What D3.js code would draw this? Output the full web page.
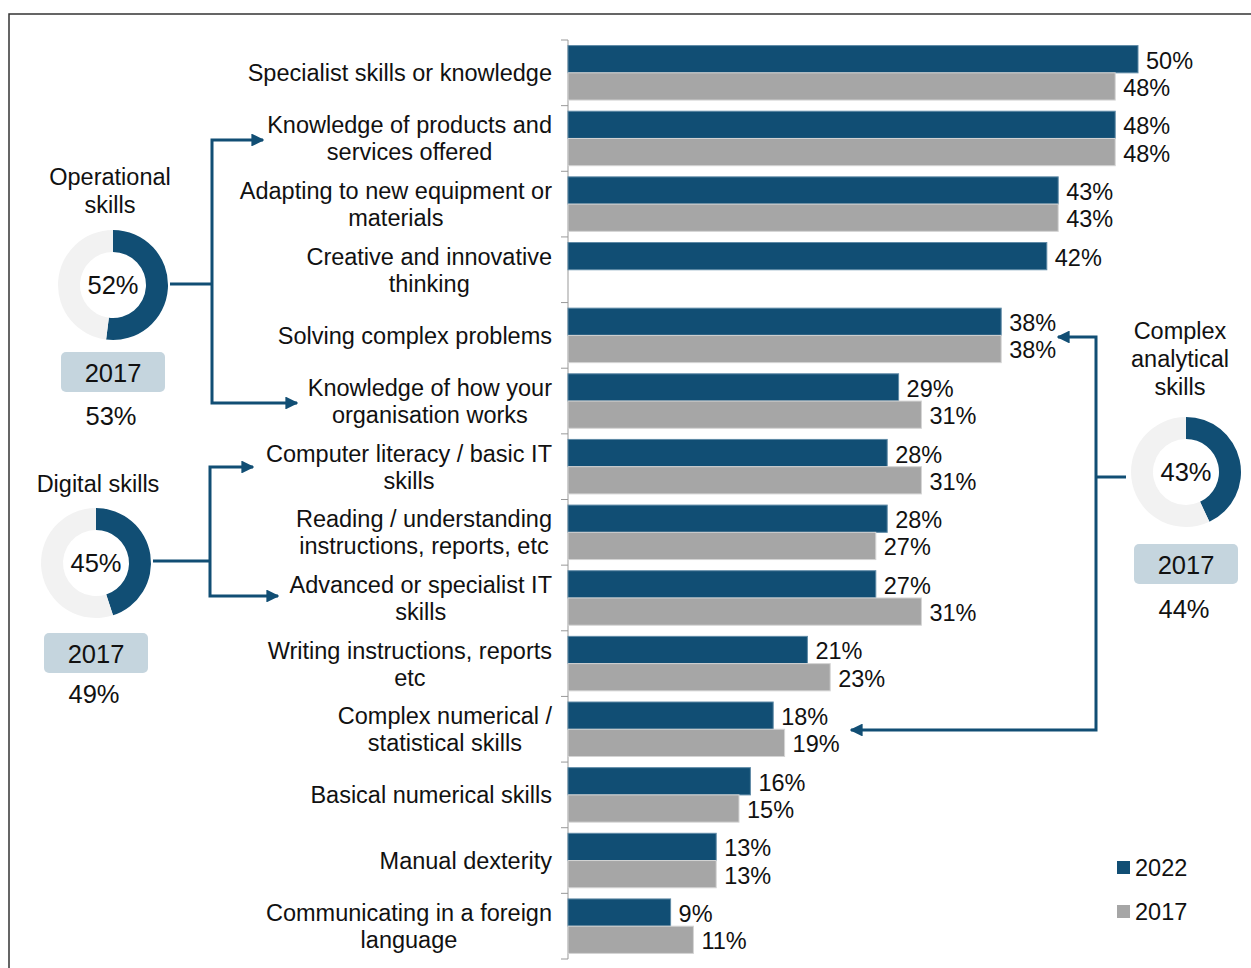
<!DOCTYPE html>
<html lang="en">
<head>
    <meta charset="UTF-8">
    <title>Skills needed</title>
    <script src="https://d3js.org/d3.v7.min.js"></script>
    <style>
        * { margin: 0; padding: 0; }
        body { background: white; font-family: "Liberation Sans", Arial, Helvetica, sans-serif; }
        text { fill: #111; }
    </style>
</head>
<body>
<svg id="chart" width="1251" height="968"></svg>
<script>
// categories (line breaks as in the original labels)
const categories = [
    ["Specialist skills or knowledge"],
    ["Knowledge of products and", "services offered"],
    ["Adapting to new equipment or", "materials"],
    ["Creative and innovative", "thinking"],
    ["Solving complex problems"],
    ["Knowledge of how your", "organisation works"],
    ["Computer literacy / basic IT", "skills"],
    ["Reading / understanding", "instructions, reports, etc"],
    ["Advanced or specialist IT", "skills"],
    ["Writing instructions, reports", "etc"],
    ["Complex numerical /", "statistical skills"],
    ["Basical numerical skills"],
    ["Manual dexterity"],
    ["Communicating in a foreign", "language"]
];
const years = ["2022", "2017"];
const values2022 = [50, 48, 43, 42, 38, 29, 28, 28, 27, 21, 18, 16, 13, 9];
const values2017 = [48, 48, 43, null, 38, 31, 31, 27, 31, 23, 19, 15, 13, 11];

// skill groups shown as donuts
const groupNames = [["Operational", "skills"], ["Digital skills"], ["Complex", "analytical", "skills"]];
const group2022 = [52, 45, 43];
const group2017 = [53, 49, 44];

const colors = { "2022": "#114e74", "2017": "#a6a6a6" };
const strokes = { "2022": "#5f8aa6", "2017": "#d4d4d4" };

const svg = d3.select("#chart");

// frame
svg.append("rect")
    .attr("x", 9).attr("y", 14)
    .attr("width", 1260).attr("height", 980)
    .attr("fill", "none").attr("stroke", "#333").attr("stroke-width", 1.5);

const x = d3.scaleLinear().domain([0, 50]).range([568, 1138]);
const y = d3.scaleBand().domain(d3.range(categories.length)).range([40, 959]).paddingInner(0.17).paddingOuter(0.085).align(0.5);
const ySub = d3.scaleBand().domain(years).range([0, y.bandwidth()]);

const rows = categories.map((c, i) => ({ i, lines: c, v: { "2022": values2022[i], "2017": values2017[i] } }));

// axis line with ticks between categories
svg.append("line")
    .attr("x1", x(0)).attr("x2", x(0))
    .attr("y1", 40).attr("y2", 959)
    .attr("stroke", "#999").attr("stroke-width", 1);
const bounds = d3.range(categories.length + 1).map(i => 40 + i * (919 / categories.length));
svg.selectAll(".tick").data(bounds).join("line")
    .attr("x1", x(0) - 7).attr("x2", x(0))
    .attr("y1", d => d).attr("y2", d => d)
    .attr("stroke", "#999").attr("stroke-width", 1);

// bars
const rowG = svg.selectAll(".row").data(rows).join("g")
    .attr("transform", d => `translate(0,${y(d.i)})`);

years.forEach(yr => {
    const sel = rowG.filter(d => d.v[yr] != null);
    sel.append("rect")
        .attr("x", x(0))
        .attr("y", ySub(yr))
        .attr("width", d => x(d.v[yr]) - x(0))
        .attr("height", ySub.bandwidth())
        .attr("fill", colors[yr])
        .attr("stroke", strokes[yr])
        .attr("stroke-width", 1);
    sel.append("text")
        .attr("x", d => x(d.v[yr]) + 8)
        .attr("y", ySub(yr) + ySub.bandwidth() / 2 + 1)
        .attr("dy", "0.36em")
        .style("font-size", "23.5px")
        .text(d => d.v[yr] + "%");
});

// category labels: centred block, right edge near the axis
const lineH = 27;
rowG.each(function(d) {
    const g = d3.select(this);
    const t = g.append("text")
        .attr("text-anchor", "middle")
        .style("font-size", "23.5px");
    const cy = y.bandwidth() / 2;
    d.lines.forEach((ln, k) => {
        t.append("tspan")
            .attr("y", cy + (k - (d.lines.length - 1) / 2) * lineH)
            .attr("dy", "0.36em")
            .text(ln);
    });
    let maxW = 0;
    t.selectAll("tspan").each(function() { maxW = Math.max(maxW, this.getComputedTextLength()); });
    t.selectAll("tspan").attr("x", 552 - maxW / 2);
});

// donuts
const donutPos = [
    { cx: 113, cy: 285, ty: 177, tx: 110, box: 67, pct: 131 },
    { cx: 96, cy: 563, ty: 484, tx: 98, box: 70, pct: 131 },
    { cx: 1186, cy: 472, ty: 331, tx: 1180, box: 72, pct: 137 }
];
const arc = d3.arc().innerRadius(33).outerRadius(55);
const pie = d3.pie().sort(null).value(d => d);

groupNames.forEach((name, gi) => {
    const p = donutPos[gi];
    const g = svg.append("g").attr("transform", `translate(${p.cx},${p.cy})`);
    g.selectAll("path").data(pie([group2022[gi], 100 - group2022[gi]])).join("path")
        .attr("d", arc)
        .attr("fill", (d, k) => k === 0 ? colors["2022"] : "#f2f2f2");
    g.append("text").attr("text-anchor", "middle").attr("dy", "0.36em")
        .style("font-size", "25.5px").text(group2022[gi] + "%");

    const title = svg.append("text").attr("text-anchor", "middle").style("font-size", "23.5px");
    name.forEach((ln, k) => {
        title.append("tspan").attr("x", p.tx).attr("y", p.ty + k * 28).attr("dy", "0.36em").text(ln);
    });

    svg.append("rect")
        .attr("x", p.cx - 52).attr("y", p.cy + p.box)
        .attr("width", 104).attr("height", 40).attr("rx", 5)
        .attr("fill", "#c5d5de");
    svg.append("text").attr("x", p.cx).attr("y", p.cy + p.box + 21).attr("dy", "0.36em")
        .attr("text-anchor", "middle").style("font-size", "25.5px").text("2017");
    svg.append("text").attr("x", p.cx - 2).attr("y", p.cy + p.pct).attr("dy", "0.36em")
        .attr("text-anchor", "middle").style("font-size", "25.5px").text(group2017[gi] + "%");
});

// connectors
const blue = colors["2022"];
svg.append("defs").append("marker")
    .attr("id", "arrow").attr("viewBox", "0 0 10 10")
    .attr("refX", 9).attr("refY", 5)
    .attr("markerWidth", 4.3).attr("markerHeight", 4.3)
    .attr("orient", "auto")
    .append("path").attr("d", "M0,0 L10,5 L0,10 Z").attr("fill", blue);

function connector(pts) {
    svg.append("path")
        .attr("d", d3.line()(pts))
        .attr("fill", "none").attr("stroke", blue).attr("stroke-width", 3)
        .attr("marker-end", "url(#arrow)");
}
// operational
svg.append("line").attr("x1", 170).attr("x2", 213).attr("y1", 284).attr("y2", 284).attr("stroke", blue).attr("stroke-width", 3);
connector([[212, 284], [212, 140], [263, 140]]);
connector([[212, 284], [212, 403], [297, 403]]);
// digital
svg.append("line").attr("x1", 153).attr("x2", 211).attr("y1", 561).attr("y2", 561).attr("stroke", blue).attr("stroke-width", 3);
connector([[210, 561], [210, 467], [253, 467]]);
connector([[210, 561], [210, 596], [278, 596]]);
// complex analytical
svg.append("line").attr("x1", 1096).attr("x2", 1126).attr("y1", 477).attr("y2", 477).attr("stroke", blue).attr("stroke-width", 3);
connector([[1096, 477], [1096, 337], [1058, 337]]);
connector([[1096, 477], [1096, 730], [851, 730]]);

// legend
const legend = svg.selectAll(".legend").data(years).join("g")
    .attr("transform", (d, k) => `translate(1117,${861 + k * 44})`);
legend.append("rect").attr("width", 13).attr("height", 13).attr("fill", d => colors[d]);
legend.append("text").attr("x", 18).attr("y", 6.5).attr("dy", "0.36em")
    .style("font-size", "23.5px").text(d => d);
</script>
</body>
</html>
